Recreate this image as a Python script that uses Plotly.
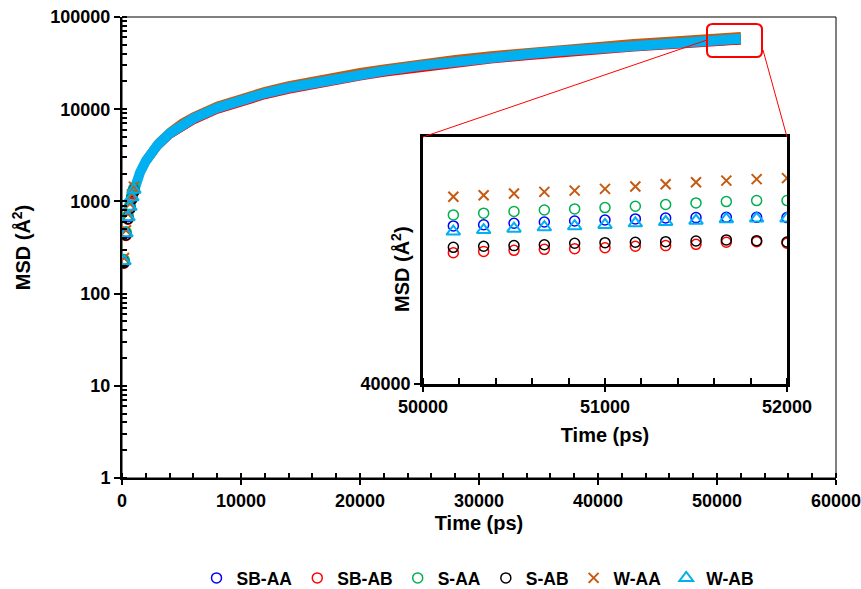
import plotly.graph_objects as go

# ---------------- data ----------------
time_ps = [166.7, 333.3, 500, 666.7, 833.3, 1000, 1500, 2000, 3000, 4000, 5000, 6000,
           8000, 10000, 12000, 14000, 16000, 18000, 20000, 22000, 25000, 28000, 31000,
           34000, 37000, 40000, 43000, 46000, 49000,
           50166.7, 50333.3, 50500, 50666.7, 50833.3, 51000, 51166.7, 51333.3, 51500,
           51666.7, 51833.3, 52000]

sb_aa = [227, 455, 682, 883, 1119, 1353, 2060, 2767, 4151, 5494, 6767, 7999, 10423, 12726,
         15029, 17251, 19473, 21725, 24038, 26331, 29795, 33229, 36633, 39834, 43167, 46460,
         49510, 52500, 55820,
         57250, 57410, 57600, 57770, 57900, 58030, 58170, 58290, 58340, 58380, 58380, 58340]
sb_ab = [214, 428, 641, 830, 1053, 1273, 1938, 2603, 3905, 5168, 6365, 7445, 9701, 11844,
         13987, 16055, 18123, 20219, 22372, 24506, 27730, 30926, 34094, 37074, 40176, 43240,
         46079, 48861, 52230,
         53880, 54040, 54170, 54290, 54370, 54490, 54670, 54750, 54910, 55170, 55240, 55040]
s_aa = [234, 468, 702, 909, 1152, 1394, 2122, 2850, 4274, 5658, 6968, 8237, 10733, 13104,
        15475, 17763, 20051, 22370, 24752, 27113, 30680, 34216, 37721, 41018, 44450, 47840,
        50981, 54059, 57480,
        58700, 58930, 59150, 59360, 59500, 59680, 59870, 60100, 60320, 60500, 60640, 60640]
s_ab = [216, 432, 648, 839, 1064, 1286, 1958, 2630, 3946, 5222, 6432, 7603, 9907, 12096,
        14285, 16397, 18509, 20650, 22848, 25027, 28320, 31584, 34819, 37862, 41030, 44160,
        47059, 49901, 53060,
        54540, 54670, 54750, 54860, 55040, 55120, 55170, 55240, 55330, 55460, 55370, 55200]
w_aa = [243, 486, 729, 944, 1197, 1447, 2203, 2959, 4439, 5875, 7303, 8633, 11249, 13734,
        16219, 18617, 21015, 23446, 25942, 28416, 32155, 35861, 39534, 42990, 46587, 50140,
        53432, 56658, 59968,
        61180, 61380, 61610, 61850, 62020, 62270, 62600, 62930, 63220, 63450, 63660, 63810]
w_ab = [225, 450, 675, 874, 1108, 1340, 2040, 2740, 4110, 5440, 6700, 7920, 10320, 12600,
        14880, 17080, 19280, 21510, 23800, 26070, 29500, 32900, 36270, 39440, 42740, 46000,
        49020, 51980, 55270,
        56520, 56720, 56890, 57080, 57210, 57380, 57590, 57770, 57940, 58130, 58210, 58210]

series_names = ["SB-AA", "SB-AB", "S-AA", "S-AB", "W-AA", "W-AB"]
series_values = [sb_aa, sb_ab, s_aa, s_ab, w_aa, w_ab]

# ---------------- styles ----------------
colors = ["#0000FF", "#FF0000", "#00B050", "#000000", "#C55A11", "#00B0F0"]
symbols = ["circle-open", "circle-open", "circle-open", "circle-open", "x-thin-open", "triangle-up-open"]
sizes = [10, 10, 10, 10, 10, 12]
lwidths = [1.5, 1.5, 1.5, 1.5, 2, 2]
band_widths = [7, 7, 7, 7, 6, 10]       # dense-marker band drawn as thick strokes
band_order = [0, 2, 3, 1, 4, 5]         # stacking order of the band strokes
FONT = "Liberation Sans, Arial, sans-serif"
N_INSET = 12
N_EARLY = 6       # separate markers at the start of the main curve
BAND_START = 4

fig = go.Figure()

# main plot: band strokes
for i in band_order:
    fig.add_trace(go.Scatter(x=time_ps[BAND_START:], y=series_values[i][BAND_START:],
                             mode="lines", line=dict(color=colors[i], width=band_widths[i]),
                             showlegend=False, hoverinfo="skip", xaxis="x", yaxis="y"))
# main plot: individual early markers (also carry the legend)
for name, vals, col, sym, sz, lw in zip(series_names, series_values, colors, symbols, sizes, lwidths):
    fig.add_trace(go.Scatter(x=time_ps[:N_EARLY], y=vals[:N_EARLY], mode="markers", name=name,
                             marker=dict(symbol=sym, size=sz, color=col,
                                         line=dict(color=col, width=lw)),
                             xaxis="x", yaxis="y"))

# inset
for name, vals, col, sym, sz, lw in zip(series_names, series_values, colors, symbols, sizes, lwidths):
    fig.add_trace(go.Scatter(x=time_ps[-N_INSET:], y=vals[-N_INSET:], mode="markers",
                             name=name, showlegend=False,
                             marker=dict(symbol=sym, size=sz, color=col,
                                         line=dict(color=col, width=lw)),
                             xaxis="x2", yaxis="y2"))

def px2paper(px, py):
    return (px - 122) / 714, (478 - py) / 461

# red zoom box (rounded) and connector lines
x0, y1 = px2paper(707, 24)
x1, y0 = px2paper(762, 57)
rx, ry = 0.008, 0.012
box_path = (f"M {x0+rx},{y0} L {x1-rx},{y0} Q {x1},{y0} {x1},{y0+ry} "
            f"L {x1},{y1-ry} Q {x1},{y1} {x1-rx},{y1} L {x0+rx},{y1} "
            f"Q {x0},{y1} {x0},{y1-ry} L {x0},{y0+ry} Q {x0},{y0} {x0+rx},{y0} Z")
la = px2paper(707, 40); lb = px2paper(423, 137)
ra = px2paper(763, 50); rb = px2paper(787, 137)

shapes = [
    dict(type="rect", xref="paper", yref="paper", x0=0, y0=0, x1=1, y1=1,
         line=dict(color="black", width=1), layer="below"),
    dict(type="path", xref="paper", yref="paper", path=box_path,
         line=dict(color="#FF0000", width=2)),
    dict(type="line", xref="paper", yref="paper", x0=la[0], y0=la[1], x1=lb[0], y1=lb[1],
         line=dict(color="#FF0000", width=1)),
    dict(type="line", xref="paper", yref="paper", x0=ra[0], y0=ra[1], x1=rb[0], y1=rb[1],
         line=dict(color="#FF0000", width=1)),
]

ix0, _ = px2paper(423, 0)
ix1, _ = px2paper(787, 0)
_, iy0 = px2paper(0, 384)
_, iy1 = px2paper(0, 137.3)

tick_font = dict(family=FONT, size=18, color="black", weight="bold")
title_font = dict(family=FONT, size=20, color="black", weight="bold")

fig.update_layout(
    width=861, height=589,
    margin=dict(l=122, r=25, t=17, b=111, autoexpand=False),
    paper_bgcolor="white", plot_bgcolor="white",
    font=dict(family=FONT, size=18, color="black", weight="bold"),
    showlegend=True,
    legend=dict(orientation="h", xref="container", yref="container",
                x=478 / 861, xanchor="center", y=(589 - 578) / 589, yanchor="middle",
                font=dict(family=FONT, size=17.5, color="black", weight="bold"),
                itemwidth=30, bgcolor="rgba(0,0,0,0)"),
    xaxis=dict(domain=[0, 1], range=[0, 60000], dtick=10000, tick0=0, tickformat="d",
               showline=True, linewidth=2, linecolor="black", mirror=False, automargin=False,
               ticks="outside", ticklen=5, tickwidth=2, tickcolor="black",
               ticklabeloverflow="allow",
               minor=dict(dtick=2000, ticks="inside", ticklen=5, tickwidth=1.5, tickcolor="black"),
               showgrid=False, zeroline=False, tickfont=tick_font,
               title=dict(text="Time (ps)", font=title_font, standoff=6)),
    yaxis=dict(domain=[0, 1], type="log", range=[0, 5],
               tickvals=[1, 10, 100, 1000, 10000, 100000],
               ticktext=["1", "10", "100", "1000", "10000", "100000"],
               showline=True, linewidth=2, linecolor="black", mirror=False, automargin=False,
               ticks="outside", ticklen=6, tickwidth=2, tickcolor="black",
               ticklabeloverflow="allow",
               minor=dict(ticks="inside", ticklen=5, tickwidth=1.5, tickcolor="black", dtick="D1"),
               showgrid=False, zeroline=False, tickfont=tick_font,
               title=dict(text="MSD (Å<sup>2</sup>)", font=title_font, standoff=14)),
    xaxis2=dict(domain=[ix0, ix1], anchor="y2", range=[50000, 52000], dtick=1000, tick0=50000,
                tickformat="d", automargin=False, ticklabeloverflow="allow",
                showline=True, linewidth=2.5, linecolor="black", mirror=True,
                ticks="outside", ticklen=5, tickwidth=2, tickcolor="black",
                minor=dict(dtick=200, ticks="inside", ticklen=6, tickwidth=2, tickcolor="black"),
                showgrid=False, zeroline=False, tickfont=tick_font,
                title=dict(text="Time (ps)", font=title_font, standoff=12)),
    yaxis2=dict(domain=[iy0, iy1], anchor="x2", type="log", automargin=False,
                range=[4.60206, 4.845098], ticklabeloverflow="allow",
                tickvals=[40000], ticktext=["40000"],
                showline=True, linewidth=2.5, linecolor="black", mirror=True,
                ticks="outside", ticklen=6, tickwidth=2, tickcolor="black",
                showgrid=False, zeroline=False, tickfont=tick_font),
    shapes=shapes,
    annotations=[
        dict(text="MSD (Å<sup>2</sup>)", xref="paper", yref="paper",
             x=px2paper(400, 0)[0], y=px2paper(0, 269)[1], textangle=-90,
             showarrow=False, font=title_font, xanchor="center", yanchor="middle"),
    ],
)

fig.write_html("out.html")
